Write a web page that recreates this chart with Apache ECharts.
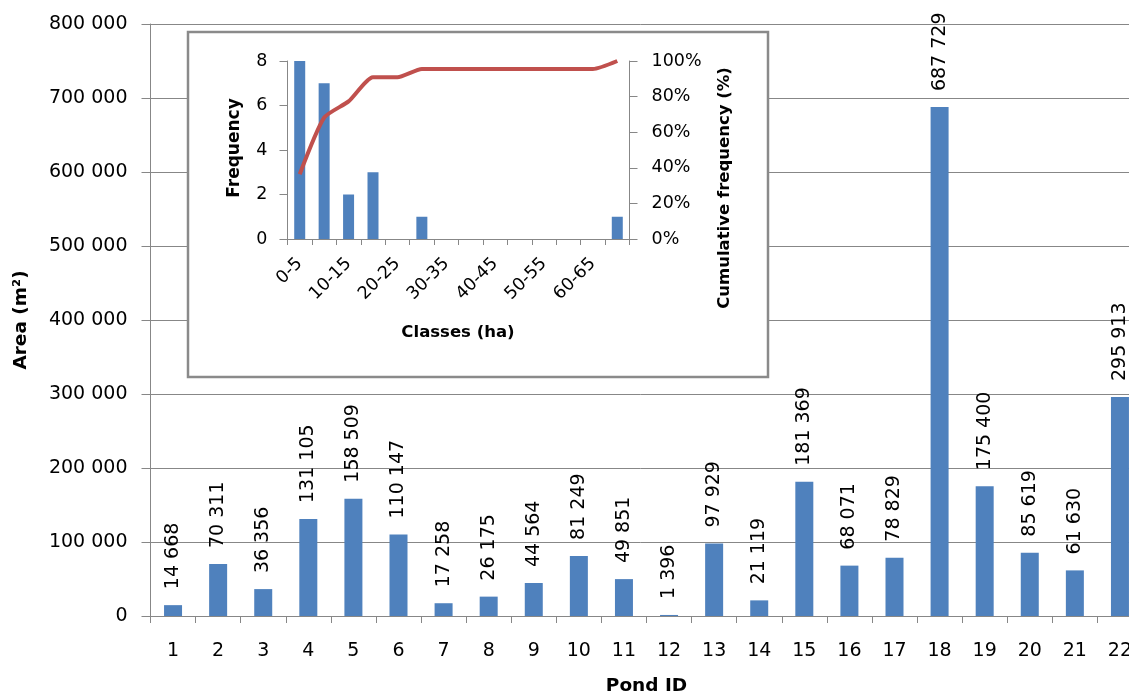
<!DOCTYPE html>
<html>
<head>
<meta charset="utf-8">
<script src="https://cdn.jsdelivr.net/npm/echarts@6/dist/echarts.min.js"></script>
<style>
  html, body { margin: 0; padding: 0; background: #fff; }
  #chart { width: 1129px; height: 695px; }
</style>
</head>
<body>
<div id="chart"></div>
<script>
// Pond areas (m²)
const ponds = ['1','2','3','4','5','6','7','8','9','10','11','12','13','14','15','16','17','18','19','20','21','22'];
const areas = [14668, 70311, 36356, 131105, 158509, 110147, 17258, 26175, 44564, 81249, 49851,
               1396, 97929, 21119, 181369, 68071, 78829, 687729, 175400, 85619, 61630, 295913];

// Size-class histogram (ha) with cumulative share
const classes = ['0-5','5-10','10-15','15-20','20-25','25-30','30-35','35-40','40-45','45-50','50-55','55-60','60-65','65-70'];
const frequency = [8, 7, 2, 3, 0, 1, 0, 0, 0, 0, 0, 0, 0, 1];
const cumulative = [36.4, 68.2, 77.3, 90.9, 90.9, 95.5, 95.5, 95.5, 95.5, 95.5, 95.5, 95.5, 95.5, 100];

const FONT = 'DejaVu Sans';
const AXIS_GREY = '#878787';
const BLUE = '#4F81BD';
const RED = '#C0504D';

function spaced(v) {
  return String(v).replace(/\B(?=(\d{3})+(?!\d))/g, ' ');
}

const chart = echarts.init(document.getElementById('chart'), null, { renderer: 'canvas' });

const tickText = { fontFamily: FONT, fontSize: 19, color: '#000' };
const insetText = { fontFamily: FONT, fontSize: 17.5, color: '#000' };

chart.setOption({
  animation: false,
  backgroundColor: '#fff',
  grid: [
    { left: 150.5, top: 24, width: 992, height: 592, containLabel: false, outerBoundsMode: 'none' },
    { left: 287.5, top: 61, width: 342, height: 178, containLabel: false, outerBoundsMode: 'none', z: 20 }
  ],
  xAxis: [
    {
      type: 'category', gridIndex: 0, data: ponds,
      axisLine: { lineStyle: { color: AXIS_GREY, width: 1 } },
      axisTick: { show: true, length: 7, lineStyle: { color: AXIS_GREY } },
      axisLabel: Object.assign({ margin: 26 }, tickText),
      name: 'Pond ID', nameLocation: 'middle', nameGap: 61,
      nameTextStyle: { fontFamily: FONT, fontSize: 18.5, fontWeight: 'bold', color: '#000' }
    },
    {
      type: 'category', gridIndex: 1, data: classes, z: 20,
      axisLine: { lineStyle: { color: AXIS_GREY, width: 1 } },
      axisTick: { show: true, length: 6, interval: 0, lineStyle: { color: AXIS_GREY } },
      axisLabel: Object.assign({ margin: 22, rotate: 45, interval: 1 }, insetText)
    }
  ],
  yAxis: [
    {
      type: 'value', gridIndex: 0, min: 0, max: 800000, interval: 100000,
      axisLine: { show: true, lineStyle: { color: AXIS_GREY, width: 1 } },
      axisTick: { show: true, length: 9, lineStyle: { color: AXIS_GREY } },
      splitLine: { show: true, lineStyle: { color: AXIS_GREY, width: 1 } },
      axisLabel: Object.assign({ margin: 23, formatter: spaced }, tickText)
    },
    {
      type: 'value', gridIndex: 1, min: 0, max: 8, interval: 2, z: 20,
      axisLine: { show: true, lineStyle: { color: AXIS_GREY, width: 1 } },
      axisTick: { show: true, length: 8, lineStyle: { color: AXIS_GREY } },
      splitLine: { show: false },
      axisLabel: Object.assign({ margin: 20 }, insetText)
    },
    {
      type: 'value', gridIndex: 1, position: 'right', min: 0, max: 100, interval: 20, z: 20,
      axisLine: { show: true, lineStyle: { color: AXIS_GREY, width: 1 } },
      axisTick: { show: true, length: 8, lineStyle: { color: AXIS_GREY } },
      splitLine: { show: false },
      axisLabel: Object.assign({ margin: 22, formatter: '{value}%' }, insetText)
    }
  ],
  series: [
    {
      type: 'bar', xAxisIndex: 0, yAxisIndex: 0, data: areas, barWidth: 18,
      itemStyle: { color: BLUE },
      label: {
        show: true, position: 'top', distance: 16, rotate: 90,
        align: 'left', verticalAlign: 'middle',
        fontFamily: FONT, fontSize: 19, color: '#000',
        formatter: p => spaced(p.value)
      }
    },
    {
      type: 'bar', xAxisIndex: 1, yAxisIndex: 1, data: frequency, barWidth: 11, z: 21,
      itemStyle: { color: BLUE }
    },
    {
      type: 'line', xAxisIndex: 1, yAxisIndex: 2, data: cumulative, z: 22,
      smooth: 0.2, symbol: 'none',
      lineStyle: { color: RED, width: 4 }
    }
  ],
  graphic: [
    {
      type: 'rect', z: 10,
      shape: { x: 188, y: 32, width: 580, height: 345 },
      style: { fill: '#fff', stroke: '#8a8a8a', lineWidth: 2.5 }
    },
    {
      type: 'text', z: 30, x: 21, y: 320, rotation: Math.PI / 2,
      style: { text: 'Area (m²)', font: 'bold 18.5px "DejaVu Sans"', fill: '#000',
               textAlign: 'center', textVerticalAlign: 'middle' }
    },
    {
      type: 'text', z: 30, x: 235, y: 148, rotation: Math.PI / 2,
      style: { text: 'Frequency', font: 'bold 17px "DejaVu Sans"', fill: '#000',
               textAlign: 'center', textVerticalAlign: 'middle' }
    },
    {
      type: 'text', z: 30, x: 725, y: 188, rotation: Math.PI / 2,
      style: { text: 'Cumulative frequency (%)', font: 'bold 16.5px "DejaVu Sans"', fill: '#000',
               textAlign: 'center', textVerticalAlign: 'middle' }
    },
    {
      type: 'text', z: 30, x: 458, y: 333,
      style: { text: 'Classes (ha)', font: 'bold 16.5px "DejaVu Sans"', fill: '#000',
               textAlign: 'center', textVerticalAlign: 'middle' }
    }
  ]
});
</script>
</body>
</html>
